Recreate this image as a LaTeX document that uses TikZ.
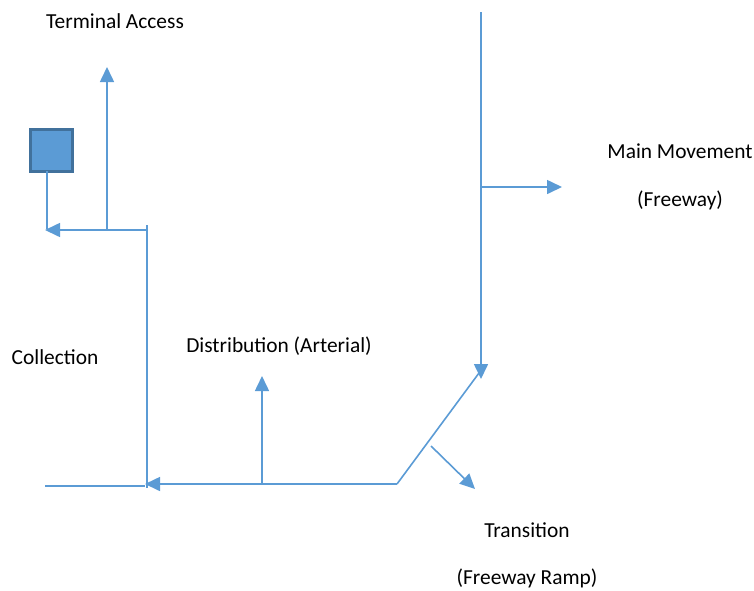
\documentclass[tikz,border=0pt]{standalone}
\usepackage{fontspec}
\setmainfont{Carlito}
\usetikzlibrary{arrows.meta}
\definecolor{lineblue}{HTML}{5B9BD5}
\definecolor{boxedge}{HTML}{41719C}
\tikzset{
  conn/.style={draw=lineblue, line width=1.6pt},
  arr/.style={conn, -{Triangle[length=15pt,width=14pt]}},
  lbl/.style={font=\fontsize{21.4}{25}\selectfont, text=black, inner sep=0pt},
  term/.style={draw=boxedge, fill=lineblue, line width=3pt, minimum size=42pt, inner sep=0pt}
}
\begin{document}
\begin{tikzpicture}[x=1pt,y=-1pt]
\useasboundingbox (0,0) rectangle (754,590);
% terminal box
\node[term] (box) at (51,150) {};
% coordinates
\coordinate (boxdrop) at (47,171);
\coordinate (ljoin) at (147,230);
\coordinate (ltip) at (45,230);
\coordinate (upbase) at (107,230);
\coordinate (uptip) at (107,67);
\coordinate (ctop) at (147,225);
\coordinate (cbot) at (147,488);
\coordinate (lineL) at (45,486);
\coordinate (lineR) at (145,486);
\coordinate (rampend) at (397,484);
\coordinate (btip) at (145,484);
\coordinate (dbase) at (262,484);
\coordinate (dtip) at (262,376);
\coordinate (rtop) at (479,373);
\coordinate (ftop) at (481,12);
\coordinate (ftip) at (481,379);
\coordinate (mbase) at (481,187);
\coordinate (mtip) at (562,187);
\coordinate (tbase) at (431,446);
\coordinate (ttip) at (475,489);
% connectors
\draw[conn] (boxdrop) -- (47,229);
\draw[arr] (ljoin) -- (ltip);
\draw[arr] (upbase) -- (uptip);
\draw[conn] (ctop) -- (cbot);
\draw[conn] (lineL) -- (lineR);
\draw[arr] (rampend) -- (btip);
\draw[arr] (dbase) -- (dtip);
\draw[conn] (rampend) -- (rtop);
\draw[arr] (ftop) -- (ftip);
\draw[arr] (mbase) -- (mtip);
\draw[arr] (tbase) -- (ttip);
% labels
\node[lbl] (t1) at (115,21) {Terminal Access};
\node[lbl] (t2) at (680,151) {Main Movement};
\node[lbl] (t3) at (680,200) {(Freeway)};
\node[lbl] (t4) at (55,357) {Collection};
\node[lbl] (t5) at (279,346) {Distribution (Arterial)};
\node[lbl] (t6) at (527,530) {Transition};
\node[lbl] (t7) at (527,578) {(Freeway Ramp)};
\end{tikzpicture}
\end{document}
